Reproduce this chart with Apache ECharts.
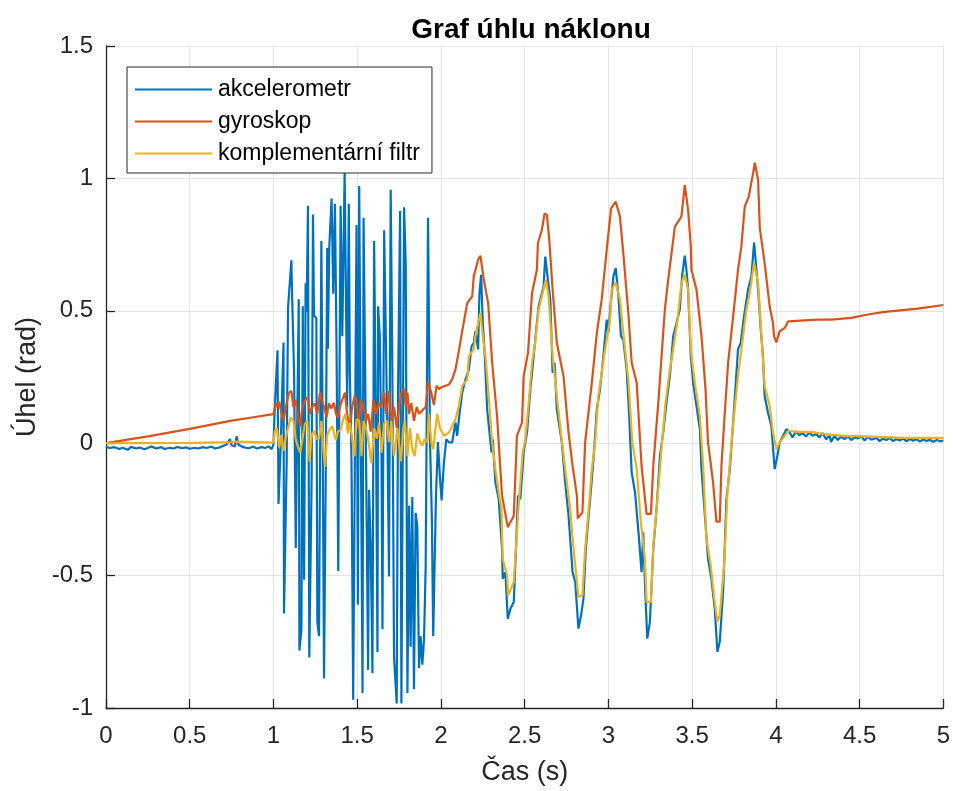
<!DOCTYPE html>
<html>
  <head>
    <title></title>
    <meta charset="UTF-8" />
    <script src="https://cdn.jsdelivr.net/npm/echarts@6/dist/echarts.min.js"></script>
    <style>
      body { margin: 0; background: #fff; }
    </style>
  </head>
  <body>
    <div id="main"></div>
    <script>
      const width = 953;
      const height = 791;
      const main = document.getElementById('main');
      main.style.width = `${width}px`;
      main.style.height = `${height}px`;

      const seriesNames = ['akcelerometr', 'gyroskop', 'komplementární filtr'];
      const xTicks = [0, 0.5, 1, 1.5, 2, 2.5, 3, 3.5, 4, 4.5, 5];
      const yTicks = [-1, -0.5, 0, 0.5, 1, 1.5];

      // [time (s), angle (rad)]
      const akcelerometr = [
        [0, -0.012], [0.02, -0.018], [0.05, -0.015], [0.08, -0.022], [0.1, -0.017], [0.13, -0.025],
        [0.15, -0.014], [0.18, -0.02], [0.2, -0.016], [0.23, -0.023], [0.25, -0.018], [0.27, -0.012],
        [0.3, -0.02], [0.33, -0.015], [0.35, -0.022], [0.38, -0.017], [0.4, -0.02], [0.43, -0.014],
        [0.45, -0.019], [0.48, -0.016], [0.5, -0.021], [0.53, -0.017], [0.55, -0.02], [0.58, -0.015],
        [0.6, -0.018], [0.63, -0.013], [0.65, -0.02], [0.68, -0.016], [0.7, -0.01], [0.72, -0.005],
        [0.74, 0.016], [0.75, -0.008], [0.77, -0.012], [0.78, 0.026], [0.79, -0.005], [0.82, -0.015],
        [0.85, -0.019], [0.88, -0.013], [0.9, -0.02], [0.93, -0.015], [0.95, -0.018], [0.97, -0.012],
        [0.99, -0.022], [1.0, -0.003],
        [1.008, 0.137], [1.024, 0.351], [1.03, -0.229], [1.044, 0.004], [1.06, 0.38], [1.063, -0.643],
        [1.079, -0.063], [1.087, 0.511], [1.107, 0.691], [1.111, 0.564], [1.123, 0.271], [1.133, -0.396],
        [1.139, -0.396], [1.151, 0.544], [1.155, -0.783], [1.167, -0.703], [1.175, 0.517], [1.183, -0.516],
        [1.192, 0.604], [1.198, 0.497], [1.206, 0.897], [1.214, -0.809], [1.228, -0.129], [1.236, 0.864],
        [1.242, 0.484], [1.256, 0.471], [1.262, -0.676], [1.272, -0.729], [1.286, 0.764], [1.294, 0.004],
        [1.302, -0.889], [1.312, -0.129], [1.321, 0.737], [1.325, 0.357], [1.333, 0.737], [1.347, 0.924],
        [1.357, 0.564], [1.367, 0.904], [1.377, 0.337], [1.387, -0.483], [1.401, 0.897], [1.411, 0.404],
        [1.425, 1.024], [1.44, 0.137], [1.45, 0.904], [1.456, 0.271], [1.466, -0.063], [1.476, -0.969],
        [1.496, 0.824], [1.504, -0.609], [1.512, 0.971], [1.522, 0.004], [1.532, -0.943], [1.538, 0.851],
        [1.552, 0.004], [1.565, -0.856], [1.571, -0.176], [1.581, -0.396], [1.591, -0.869], [1.601, 0.764],
        [1.613, 0.004], [1.621, -0.789], [1.625, 0.517], [1.635, 0.404], [1.645, -0.049], [1.651, -0.703],
        [1.661, 0.804], [1.673, 0.324], [1.681, 0.004], [1.69, -0.503], [1.7, 0.957], [1.71, 0.271],
        [1.72, -0.809], [1.736, -0.983], [1.744, 0.204], [1.756, 0.877], [1.764, -0.983], [1.78, 0.891],
        [1.79, 0.671], [1.8, -0.943], [1.81, -0.236], [1.819, -0.769], [1.829, -0.203], [1.839, -0.929],
        [1.849, -0.263], [1.859, -0.316], [1.869, -0.849], [1.879, -0.729], [1.889, -0.836], [1.899, -0.743],
        [1.909, -0.463], [1.923, 0.851], [1.935, 0.004], [1.946, -0.289], [1.954, -0.729], [1.962, -0.729],
        [1.97, -0.209], [1.982, 0.004], [1.994, -0.129], [2.004, -0.216],
        [2.018, -0.073], [2.032, 0.015], [2.048, 0.003], [2.067, 0.003], [2.087, 0.078], [2.097, 0.028],
        [2.107, 0.09], [2.127, 0.191], [2.147, 0.241], [2.167, 0.279], [2.183, 0.366], [2.196, 0.379],
        [2.206, 0.423], [2.222, 0.354], [2.23, 0.567], [2.24, 0.636], [2.25, 0.454], [2.262, 0.329],
        [2.276, 0.128], [2.286, 0.065], [2.302, -0.035], [2.31, 0.015], [2.325, -0.148], [2.345, -0.211],
        [2.365, -0.399], [2.369, -0.512], [2.385, -0.487], [2.399, -0.663], [2.415, -0.625], [2.435, -0.6],
        [2.448, -0.399], [2.46, -0.198], [2.474, -0.211], [2.494, -0.035], [2.514, 0.04], [2.534, 0.203],
        [2.554, 0.329], [2.563, 0.391], [2.583, 0.517], [2.613, 0.592], [2.623, 0.705], [2.639, 0.617],
        [2.653, 0.542], [2.667, 0.266], [2.679, 0.304], [2.692, 0.128], [2.722, 0.003], [2.742, -0.148],
        [2.762, -0.274], [2.786, -0.487], [2.802, -0.524], [2.821, -0.7], [2.837, -0.65], [2.851, -0.587],
        [2.865, -0.399], [2.877, -0.311], [2.891, -0.211], [2.911, -0.06], [2.931, 0.128], [2.95, 0.203],
        [2.97, 0.329], [2.99, 0.467], [3.0, 0.417], [3.016, 0.542], [3.03, 0.63], [3.044, 0.661],
        [3.06, 0.555], [3.075, 0.404], [3.089, 0.391], [3.109, 0.279], [3.123, 0.115], [3.139, -0.11],
        [3.159, -0.186], [3.183, -0.361], [3.198, -0.487], [3.208, -0.336], [3.218, -0.524], [3.232, -0.738],
        [3.248, -0.675], [3.268, -0.399], [3.288, -0.248], [3.308, -0.048], [3.327, 0.04], [3.347, 0.153],
        [3.367, 0.253], [3.387, 0.404], [3.407, 0.454], [3.426, 0.504], [3.44, 0.63], [3.456, 0.708],
        [3.466, 0.655], [3.476, 0.58], [3.492, 0.329], [3.506, 0.228], [3.526, 0.141], [3.546, 0.053],
        [3.556, -0.098], [3.572, -0.236], [3.595, -0.437], [3.615, -0.512], [3.635, -0.625], [3.651, -0.788],
        [3.665, -0.75], [3.685, -0.562], [3.705, -0.211], [3.725, -0.098], [3.745, 0.078], [3.758, 0.203],
        [3.774, 0.354], [3.79, 0.379], [3.81, 0.479], [3.834, 0.58], [3.854, 0.63], [3.87, 0.758],
        [3.884, 0.655], [3.894, 0.58], [3.91, 0.429], [3.923, 0.329], [3.933, 0.178], [3.953, 0.115],
        [3.973, 0.065], [3.993, -0.098], [4.009, -0.048], [4.023, 0.003], [4.043, 0.028], [4.063, 0.053],
        [4.08, 0.043], [4.1, 0.022], [4.12, 0.045], [4.14, 0.03], [4.16, 0.038], [4.18, 0.025],
        [4.2, 0.04], [4.22, 0.028], [4.24, 0.035], [4.26, 0.022], [4.28, 0.038], [4.3, 0.015],
        [4.32, 0.03], [4.33, 0.005], [4.35, 0.028], [4.37, 0.012], [4.39, 0.025], [4.41, 0.015],
        [4.43, 0.027], [4.45, 0.012], [4.47, 0.022], [4.49, 0.018], [4.51, 0.026], [4.53, 0.01],
        [4.55, 0.024], [4.57, 0.013], [4.6, 0.02], [4.62, 0.008], [4.64, 0.018], [4.66, 0.012],
        [4.68, 0.02], [4.7, 0.008], [4.72, 0.016], [4.74, 0.01], [4.76, 0.018], [4.78, 0.007],
        [4.8, 0.016], [4.82, 0.009], [4.84, 0.015], [4.86, 0.006], [4.88, 0.014], [4.9, 0.008],
        [4.92, 0.013], [4.94, 0.005], [4.96, 0.012], [4.98, 0.007], [5.0, 0.01],
      ];

      const gyroskop = [
        [0, 0], [0.25, 0.026], [0.5, 0.054], [0.75, 0.085], [0.9, 0.1], [1.0, 0.11],
        [1.014, 0.151], [1.024, 0.137], [1.034, 0.157], [1.048, 0.111], [1.06, 0.084], [1.073, 0.137],
        [1.093, 0.191], [1.107, 0.197], [1.119, 0.137], [1.133, 0.164], [1.147, 0.097], [1.159, 0.064],
        [1.173, 0.137], [1.192, 0.164], [1.206, 0.175], [1.218, 0.111], [1.232, 0.137], [1.246, 0.151],
        [1.262, 0.111], [1.278, 0.191], [1.288, 0.164], [1.302, 0.137], [1.317, 0.097], [1.331, 0.151],
        [1.345, 0.131], [1.361, 0.153], [1.373, 0.111], [1.385, 0.097], [1.397, 0.137], [1.411, 0.164],
        [1.427, 0.191], [1.44, 0.111], [1.456, 0.057], [1.47, 0.137], [1.484, 0.177], [1.496, 0.164],
        [1.506, 0.057], [1.522, 0.164], [1.538, 0.137], [1.552, 0.084], [1.565, 0.111], [1.581, 0.044],
        [1.597, 0.164], [1.613, 0.111], [1.629, 0.151], [1.641, 0.137], [1.661, 0.191], [1.673, 0.111],
        [1.69, 0.197], [1.704, 0.084], [1.72, 0.137], [1.736, 0.057], [1.75, 0.137], [1.764, 0.191],
        [1.78, 0.204], [1.79, 0.137], [1.8, 0.191], [1.81, 0.111], [1.823, 0.151], [1.839, 0.084],
        [1.855, 0.137], [1.869, 0.111], [1.889, 0.124], [1.909, 0.137], [1.923, 0.231], [1.942, 0.191],
        [1.958, 0.144], [1.974, 0.217], [1.988, 0.204], [2.002, 0.211], [2.008, 0.206], [2.048, 0.222],
        [2.067, 0.241], [2.087, 0.279], [2.107, 0.348], [2.127, 0.423], [2.157, 0.529], [2.187, 0.555],
        [2.196, 0.63], [2.222, 0.693], [2.236, 0.708], [2.256, 0.617], [2.282, 0.529], [2.306, 0.304],
        [2.335, 0.103], [2.365, -0.198], [2.399, -0.317], [2.435, -0.274], [2.454, 0.028], [2.484, 0.078],
        [2.494, 0.253], [2.52, 0.341], [2.544, 0.567], [2.573, 0.655], [2.579, 0.755], [2.603, 0.806],
        [2.619, 0.868], [2.633, 0.862], [2.647, 0.768], [2.667, 0.58], [2.692, 0.379], [2.732, 0.253],
        [2.762, 0.04], [2.786, -0.085], [2.812, -0.198], [2.817, -0.284], [2.845, -0.261], [2.861, 0.003],
        [2.901, 0.228], [2.931, 0.417], [2.96, 0.542], [2.99, 0.73], [3.016, 0.887], [3.044, 0.912],
        [3.069, 0.856], [3.089, 0.718], [3.119, 0.492], [3.139, 0.304], [3.169, 0.228], [3.198, -0.085],
        [3.228, -0.267], [3.254, -0.267], [3.268, -0.085], [3.298, 0.153], [3.337, 0.504], [3.357, 0.617],
        [3.397, 0.818], [3.436, 0.856], [3.456, 0.975], [3.476, 0.881], [3.492, 0.743], [3.496, 0.655],
        [3.526, 0.58], [3.556, 0.404], [3.58, 0.203], [3.595, 0.003], [3.625, -0.148], [3.645, -0.296],
        [3.665, -0.296], [3.675, -0.085], [3.699, 0.153], [3.715, 0.304], [3.745, 0.479], [3.774, 0.655],
        [3.794, 0.743], [3.814, 0.893], [3.838, 0.931], [3.864, 1.019], [3.874, 1.059], [3.894, 0.994],
        [3.904, 0.812], [3.933, 0.68], [3.963, 0.517], [3.983, 0.454], [3.989, 0.404], [4.003, 0.381],
        [4.023, 0.423], [4.053, 0.435], [4.073, 0.46], [4.172, 0.464], [4.251, 0.467], [4.331, 0.467],
        [4.45, 0.473], [4.55, 0.486], [4.649, 0.496], [4.848, 0.508], [5.0, 0.522],
      ];

      const filtr = [
        [0, 0], [0.5, 0.001], [0.75, 0.004], [0.78, 0.006], [1.0, 0.002],
        [1.008, 0.044], [1.02, 0.057], [1.034, -0.016], [1.048, 0.031], [1.06, -0.029], [1.073, 0.017],
        [1.087, 0.057], [1.103, 0.097], [1.119, 0.084], [1.133, 0.017], [1.147, -0.016], [1.159, -0.036],
        [1.173, 0.017], [1.187, 0.071], [1.202, 0.084], [1.216, -0.069], [1.228, 0.031], [1.242, 0.047],
        [1.258, 0.017], [1.272, 0.017], [1.286, 0.084], [1.298, -0.023], [1.308, -0.089], [1.321, 0.031],
        [1.335, 0.051], [1.351, 0.064], [1.361, 0.071], [1.373, 0.011], [1.385, 0.044], [1.401, 0.051],
        [1.417, 0.091], [1.431, 0.111], [1.444, 0.037], [1.456, 0.077], [1.47, 0.017], [1.484, -0.049],
        [1.496, 0.091], [1.512, 0.084], [1.526, -0.049], [1.538, 0.084], [1.552, 0.057], [1.565, 0.017],
        [1.585, -0.076], [1.601, 0.057], [1.617, 0.017], [1.631, 0.077], [1.645, -0.036], [1.661, 0.077],
        [1.677, 0.084], [1.69, 0.004], [1.704, 0.084], [1.72, -0.049], [1.74, 0.057], [1.76, -0.069],
        [1.776, 0.057], [1.784, 0.084], [1.8, -0.049], [1.815, 0.057], [1.829, -0.023], [1.843, -0.049],
        [1.859, 0.037], [1.875, 0.004], [1.889, -0.009], [1.903, 0.017], [1.919, 0.004], [1.929, 0.111],
        [1.942, 0.004], [1.954, -0.023], [1.968, 0.057], [1.978, 0.111], [1.994, 0.057], [2.018, 0.028],
        [2.048, 0.04], [2.067, 0.065], [2.087, 0.09], [2.107, 0.141], [2.127, 0.216], [2.157, 0.241],
        [2.167, 0.329], [2.196, 0.354], [2.206, 0.404], [2.222, 0.454], [2.236, 0.492], [2.25, 0.404],
        [2.266, 0.329], [2.282, 0.203], [2.306, 0.003], [2.325, -0.098], [2.345, -0.186], [2.361, -0.248],
        [2.369, -0.437], [2.395, -0.499], [2.401, -0.575], [2.435, -0.524], [2.448, -0.399], [2.464, -0.236],
        [2.488, -0.035], [2.504, 0.015], [2.524, 0.153], [2.544, 0.304], [2.563, 0.379], [2.583, 0.504],
        [2.603, 0.555], [2.627, 0.617], [2.643, 0.555], [2.667, 0.329], [2.692, 0.178], [2.712, 0.065],
        [2.742, -0.098], [2.772, -0.248], [2.792, -0.399], [2.812, -0.524], [2.821, -0.581], [2.845, -0.575],
        [2.861, -0.399], [2.881, -0.261], [2.901, -0.098], [2.921, 0.003], [2.94, 0.178], [2.96, 0.266],
        [2.98, 0.354], [3.01, 0.467], [3.02, 0.58], [3.044, 0.607], [3.069, 0.542], [3.089, 0.417],
        [3.119, 0.241], [3.143, 0.003], [3.169, -0.098], [3.194, -0.299], [3.218, -0.437], [3.228, -0.6],
        [3.254, -0.6], [3.268, -0.386], [3.298, -0.173], [3.317, -0.023], [3.341, 0.153], [3.367, 0.279],
        [3.387, 0.354], [3.413, 0.467], [3.436, 0.605], [3.456, 0.636], [3.476, 0.58], [3.492, 0.354],
        [3.516, 0.228], [3.546, 0.103], [3.566, -0.085], [3.585, -0.361], [3.611, -0.462], [3.635, -0.6],
        [3.651, -0.675], [3.665, -0.65], [3.691, -0.462], [3.711, -0.186], [3.735, 0.003], [3.754, 0.128],
        [3.774, 0.253], [3.794, 0.354], [3.824, 0.504], [3.844, 0.567], [3.87, 0.68], [3.894, 0.605],
        [3.914, 0.404], [3.933, 0.216], [3.963, 0.141], [3.983, 0.04], [4.003, -0.023], [4.023, 0.003],
        [4.053, 0.028], [4.073, 0.046], [4.132, 0.043], [4.212, 0.043], [4.291, 0.034], [4.411, 0.028],
        [4.57, 0.025], [4.768, 0.02], [5.0, 0.02],
      ];

      const colors = ['#0072BD', '#D95319', '#EDB120'];
      const font = '"Liberation Sans", Arial, Helvetica, sans-serif';
      const axisColor = '#262626';
      const gridColor = '#e3e3e3';

      const makeSeries = (name, data, i) => ({
        name: name,
        type: 'line',
        data: data,
        symbol: 'none',
        showSymbol: false,
        lineStyle: { width: 2.2, color: colors[i] },
        itemStyle: { color: colors[i] },
        z: 2 + i,
      });

      const myChart = echarts.init(main, null, { renderer: 'canvas' });
      const option = {
        animation: false,
        backgroundColor: '#ffffff',
        textStyle: { fontFamily: font },
        title: {
          text: 'Graf úhlu náklonu',
          left: 526,
          textAlign: 'center',
          top: 11,
          textStyle: { fontFamily: font, fontSize: 28, fontWeight: 'bold', color: '#000' },
        },
        legend: {
          data: seriesNames,
          orient: 'vertical',
          left: 127,
          top: 67,
          padding: [11, 12, 8, 8],
          icon: 'rect',
          itemWidth: 77,
          itemHeight: 2,
          itemGap: 9,
          borderColor: axisColor,
          borderWidth: 1,
          backgroundColor: '#fff',
          textStyle: { fontFamily: font, fontSize: 23, lineHeight: 23, color: '#000', padding: [0, 0, 0, 1] },
        },
        grid: { left: 106, top: 46, width: 840, height: 664, containLabel: false },
        xAxis: {
          type: 'value',
          min: xTicks[0],
          max: xTicks[xTicks.length - 1],
          interval: 0.5,
          name: 'Čas (s)',
          nameLocation: 'middle',
          nameGap: 51,
          nameTextStyle: { fontFamily: font, fontSize: 27, color: axisColor },
          axisLine: { show: true, onZero: false, lineStyle: { color: axisColor, width: 1.3 } },
          axisTick: { show: true, inside: true, length: 9, lineStyle: { color: axisColor, width: 1.3 } },
          axisLabel: { margin: 16, fontFamily: font, fontSize: 24, color: axisColor, formatter: (v) => String(v) },
          splitLine: { show: true, lineStyle: { color: gridColor, width: 1 } },
        },
        yAxis: {
          type: 'value',
          min: yTicks[0],
          max: yTicks[yTicks.length - 1],
          interval: 0.5,
          name: 'Úhel (rad)',
          nameLocation: 'middle',
          nameGap: 64,
          nameTextStyle: { fontFamily: font, fontSize: 27, color: axisColor },
          axisLine: { show: true, onZero: false, lineStyle: { color: axisColor, width: 1.3 } },
          axisTick: { show: true, inside: true, length: 9, lineStyle: { color: axisColor, width: 1.3 } },
          axisLabel: { margin: 13, fontFamily: font, fontSize: 24, color: axisColor, formatter: (v) => String(v) },
          splitLine: { show: true, lineStyle: { color: gridColor, width: 1 } },
        },
        series: [
          makeSeries(seriesNames[0], akcelerometr, 0),
          makeSeries(seriesNames[1], gyroskop, 1),
          makeSeries(seriesNames[2], filtr, 2),
        ],
      };
      myChart.setOption(option);
    </script>
  </body>
</html>
